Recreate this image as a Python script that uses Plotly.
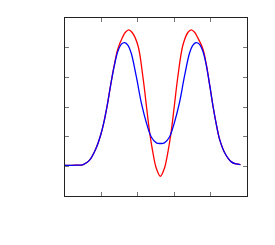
import plotly.graph_objects as go

blue_x = [0.0, 0.3, 0.5, 0.67, 0.85, 0.99, 1.08, 1.17, 1.26, 1.36, 1.45, 1.55, 1.64, 1.73, 1.82,
          1.96, 2.10, 2.24, 2.37, 2.51, 2.62, 2.73, 2.87, 3.00, 3.14, 3.28, 3.42, 3.51, 3.60,
          3.69, 3.79, 3.88, 3.98, 4.07, 4.16, 4.25, 4.39, 4.57, 4.70, 4.82]
blue_y = [1.03, 1.04, 1.06, 1.2, 1.6, 2.1, 2.55, 3.12, 3.78, 4.42, 4.87, 5.12, 5.17, 5.08, 4.81,
          4.02, 3.12, 2.45, 1.99, 1.79, 1.77, 1.79, 1.99, 2.45, 3.12, 4.02, 4.81, 5.08, 5.17,
          5.12, 4.87, 4.42, 3.70, 3.00, 2.40, 1.90, 1.45, 1.15, 1.08, 1.06]

red_x = [0.0, 0.3, 0.5, 0.67, 0.85, 0.99, 1.08, 1.17, 1.26, 1.36, 1.45, 1.58, 1.66, 1.75, 1.84,
         2.00, 2.14, 2.24, 2.33, 2.42, 2.51, 2.62, 2.73, 2.82, 2.91, 3.00, 3.10, 3.24,
         3.38, 3.47, 3.56, 3.64, 3.79, 3.88, 3.98, 4.07, 4.16, 4.25, 4.39, 4.57, 4.70, 4.82]
red_y = [1.03, 1.04, 1.06, 1.2, 1.6, 2.1, 2.55, 3.12, 3.78, 4.45, 4.95, 5.35, 5.52, 5.6, 5.52,
         5.09, 4.02, 3.0, 2.1, 1.43, 0.93, 0.665, 0.93, 1.43, 2.1, 3.0, 4.02, 5.09,
         5.52, 5.6, 5.52, 5.35, 4.95, 4.45, 3.70, 3.00, 2.40, 1.90, 1.45, 1.15, 1.08, 1.06]

x_ticks = [1, 2, 3, 4]
y_ticks = [1, 2, 3, 4, 5]

fig = go.Figure()
fig.add_trace(go.Scatter(x=red_x, y=red_y, mode="lines", line=dict(color="red", width=1.3, shape="spline"),
                         showlegend=False, hoverinfo="skip"))
fig.add_trace(go.Scatter(x=blue_x, y=blue_y, mode="lines", line=dict(color="blue", width=1.3, shape="spline"),
                         showlegend=False, hoverinfo="skip"))

axis_common = dict(showgrid=False, zeroline=False, showticklabels=False, ticks="inside", ticklen=4,
                   tickcolor="#777777", tickwidth=1, showline=True, linecolor="#222222", linewidth=1,
                   mirror="ticks")
fig.update_layout(
    width=275, height=245,
    margin=dict(l=65, r=28, t=18, b=49),
    paper_bgcolor="white", plot_bgcolor="white",
    xaxis=dict(range=[0, 5], tickvals=x_ticks, **axis_common),
    yaxis=dict(range=[0, 6], tickvals=y_ticks, **axis_common),
)
fig.write_html("out.html", config={"displayModeBar": False},
               post_script="document.body.style.margin='0';document.body.style.padding='0';")
